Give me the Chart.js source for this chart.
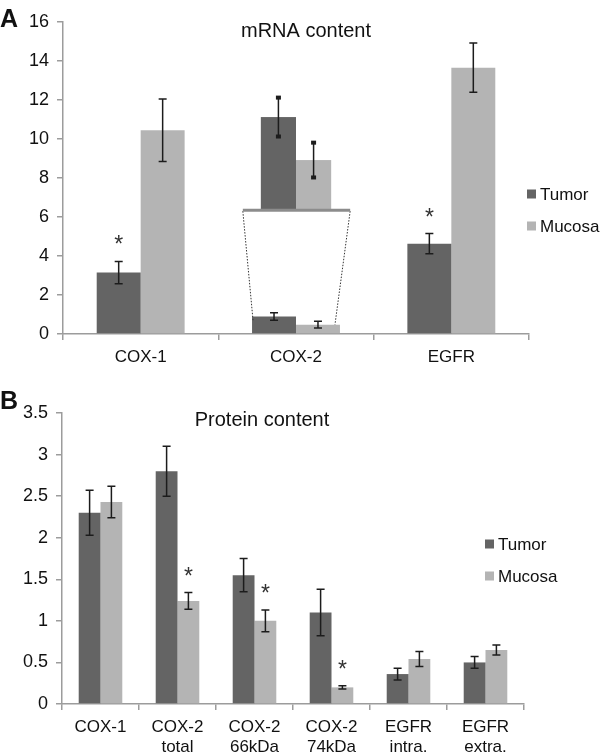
<!DOCTYPE html>
<html>
<head>
<meta charset="utf-8">
<script src="https://cdn.jsdelivr.net/npm/chart.js@4/dist/chart.umd.min.js"></script>
<style>
  html, body { margin: 0; padding: 0; background: #fff; }
  #wrap { position: relative; width: 600px; height: 756px; }
  canvas { position: absolute; left: 0; }
  #chartA { top: 0; width: 600px; height: 370px; }
  #chartB { top: 370px; width: 600px; height: 386px; }
</style>
</head>
<body>
<div id="wrap">
  <canvas id="chartA" width="600" height="370"></canvas>
  <canvas id="chartB" width="600" height="386"></canvas>
</div>
<script>
(function(){
  'use strict';

  // Panel A: mRNA content
  const catsA = ['COX-1', 'COX-2', 'EGFR'];
  const tumorA = [3.15, 0.9, 4.63];
  const tumorErrA = [0.57, 0.19, 0.52];
  const mucosaA = [10.45, 0.48, 13.66];
  const mucosaErrA = [1.6, 0.17, 1.26];
  const sigTumorA = [true, false, true];
  const sigMucosaA = [false, false, false];
  const ticksA = { min: 0, max: 16, step: 2 };
  // magnified COX-2 inset: drawn from value insetBase upward, insetZoom times larger
  const insetIndex = 1, insetBase = 6.4, insetZoom = 5.25;

  // Panel B: protein content
  const catsB = [['COX-1'], ['COX-2', 'total'], ['COX-2', '66kDa'], ['COX-2', '74kDa'], ['EGFR', 'intra.'], ['EGFR', 'extra.']];
  const tumorB = [2.30, 2.80, 1.55, 1.10, 0.36, 0.50];
  const tumorErrB = [0.27, 0.30, 0.20, 0.28, 0.07, 0.07];
  const mucosaB = [2.43, 1.24, 1.00, 0.20, 0.54, 0.65];
  const mucosaErrB = [0.19, 0.10, 0.13, 0.02, 0.09, 0.06];
  const sigTumorB = [false, false, false, false, false, false];
  const sigMucosaB = [false, true, true, true, false, false];
  const ticksB = { min: 0, max: 3.5, step: 0.5 };

  const FONT = '"Liberation Sans", Arial, Helvetica, sans-serif';
  const TUMOR = '#646464', MUCOSA = '#b4b4b4', AXIS = '#9c9c9c', INK = '#1c1c1c';

  function errBar(ctx, x, top, bot){
    ctx.beginPath();
    ctx.moveTo(x, top); ctx.lineTo(x, bot);
    ctx.moveTo(x-4, top); ctx.lineTo(x+4, top);
    ctx.moveTo(x-4, bot); ctx.lineTo(x+4, bot);
    ctx.stroke();
  }

  function panelPlugin(p){
    return {
      id: 'panel' + p.letter,
      afterDatasetsDraw(chart){
        const ctx = chart.ctx, y = chart.scales.y;
        ctx.save();
        ctx.strokeStyle = INK; ctx.lineWidth = 1.5;
        chart.data.datasets.forEach((ds, i) => {
          chart.getDatasetMeta(i).data.forEach((bar, j) => {
            const v = ds.data[j], e = p.errs[i][j];
            const top = y.getPixelForValue(v + e), bot = y.getPixelForValue(v - e);
            errBar(ctx, bar.x, top, bot);
            if (p.sigs[i][j]) {
              ctx.fillStyle = '#333';
              ctx.font = '23px ' + FONT;
              ctx.textAlign = 'center'; ctx.textBaseline = 'alphabetic';
              ctx.fillText('*', bar.x, top - 9);
            }
          });
        });

        // title and panel letter
        ctx.fillStyle = '#111';
        ctx.textBaseline = 'alphabetic';
        ctx.font = '20px ' + FONT; ctx.textAlign = 'center';
        ctx.fillText(p.title, p.titleX, p.titleY);
        ctx.font = 'bold 25px ' + FONT; ctx.textAlign = 'left';
        ctx.fillText(p.letter, 0, p.letterY);

        // legend
        ctx.font = '17px ' + FONT; ctx.textBaseline = 'middle';
        chart.data.datasets.forEach((ds, i) => {
          const ly = p.legendY + i * 32;
          ctx.fillStyle = ds.backgroundColor;
          ctx.fillRect(p.legendX, ly - 4.5, 9, 9);
          ctx.fillStyle = '#111';
          ctx.fillText(ds.label, p.legendX + 13, ly + 1);
        });
        ctx.restore();
      }
    };
  }

  const insetPlugin = {
    id: 'insetCox2',
    afterDatasetsDraw(chart){
      const ctx = chart.ctx, y = chart.scales.y;
      const t = chart.getDatasetMeta(0).data[insetIndex];
      const m = chart.getDatasetMeta(1).data[insetIndex];
      const bw = t.width * 0.8;
      const cx = (t.x + m.x) / 2;
      const baseY = y.getPixelForValue(insetBase);
      const pxU = y.getPixelForValue(0) - y.getPixelForValue(insetZoom);
      const left = cx - bw - 18, right = cx + bw + 19;
      ctx.save();
      // dotted connectors
      ctx.strokeStyle = '#333'; ctx.lineWidth = 1; ctx.setLineDash([1.5, 1.5]);
      ctx.beginPath();
      ctx.moveTo(left, baseY + 2); ctx.lineTo(t.x - t.width / 2 + 1, t.y + 4);
      ctx.moveTo(right, baseY + 2); ctx.lineTo(m.x + m.width / 2 - 5, m.y);
      ctx.stroke();
      ctx.setLineDash([]);
      // enlarged bars
      const ins = [
        { x0: cx - bw, v: tumorA[insetIndex], e: tumorErrA[insetIndex], c: TUMOR },
        { x0: cx, v: mucosaA[insetIndex], e: mucosaErrA[insetIndex], c: MUCOSA }
      ];
      ins.forEach(b => {
        ctx.fillStyle = b.c;
        ctx.fillRect(b.x0, baseY - b.v * pxU, bw, b.v * pxU);
      });
      // base line of the inset
      ctx.strokeStyle = '#8c8c8c'; ctx.lineWidth = 3;
      ctx.beginPath(); ctx.moveTo(left, baseY + 1); ctx.lineTo(right, baseY + 1); ctx.stroke();
      // error bars with square ends
      ctx.strokeStyle = INK; ctx.fillStyle = INK; ctx.lineWidth = 1.5;
      ins.forEach(b => {
        const x = b.x0 + bw / 2;
        const top = baseY - (b.v + b.e) * pxU, bot = baseY - (b.v - b.e) * pxU;
        ctx.beginPath(); ctx.moveTo(x, top); ctx.lineTo(x, bot); ctx.stroke();
        ctx.fillRect(x - 2.5, top - 2, 5, 4);
        ctx.fillRect(x - 2.5, bot - 2, 5, 4);
      });
      ctx.restore();
    }
  };

  function makeChart(canvas, cats, tumor, mucosa, tk, geo, plugins){
    return new Chart(canvas, {
      type: 'bar',
      data: {
        labels: cats,
        datasets: [
          { label: 'Tumor', data: tumor, backgroundColor: TUMOR },
          { label: 'Mucosa', data: mucosa, backgroundColor: MUCOSA }
        ]
      },
      options: {
        responsive: false,
        animation: false,
        categoryPercentage: 0.566,
        barPercentage: 1,
        layout: { padding: { left: 0, right: geo.right, top: geo.top, bottom: 0 } },
        plugins: { legend: { display: false }, tooltip: { enabled: false }, title: { display: false } },
        scales: {
          x: {
            afterFit(s){ s.height = geo.xh; },
            border: { color: AXIS, width: 1.5 },
            grid: { offset: true, drawOnChartArea: false, tickLength: 6, color: AXIS, lineWidth: 1.5 },
            ticks: { color: '#111', font: { family: FONT, size: 17 }, padding: 7, maxRotation: 0, autoSkip: false }
          },
          y: {
            min: tk.min, max: tk.max,
            afterFit(s){ s.width = geo.yw; },
            border: { color: AXIS, width: 1.5 },
            grid: { drawOnChartArea: false, tickLength: 6, color: AXIS, lineWidth: 1.5 },
            ticks: { stepSize: tk.step, color: '#111', font: { family: FONT, size: 18 }, padding: 8,
                     callback: v => String(v) }
          }
        }
      },
      plugins: plugins
    });
  }

  makeChart(document.getElementById('chartA'), catsA, tumorA, mucosaA, ticksA,
    { right: 71, top: 22, xh: 36, yw: 63 },
    [insetPlugin, panelPlugin({
      letter: 'A', title: 'mRNA content', titleX: 306, titleY: 37, letterY: 27,
      legendX: 527, legendY: 194,
      errs: [tumorErrA, mucosaErrA], sigs: [sigTumorA, sigMucosaA]
    })]);

  makeChart(document.getElementById('chartB'), catsB, tumorB, mucosaB, ticksB,
    { right: 76, top: 43, xh: 52, yw: 62 },
    [panelPlugin({
      letter: 'B', title: 'Protein content', titleX: 262, titleY: 56, letterY: 39,
      legendX: 485, legendY: 174,
      errs: [tumorErrB, mucosaErrB], sigs: [sigTumorB, sigMucosaB]
    })]);
})();
</script>
</body>
</html>
